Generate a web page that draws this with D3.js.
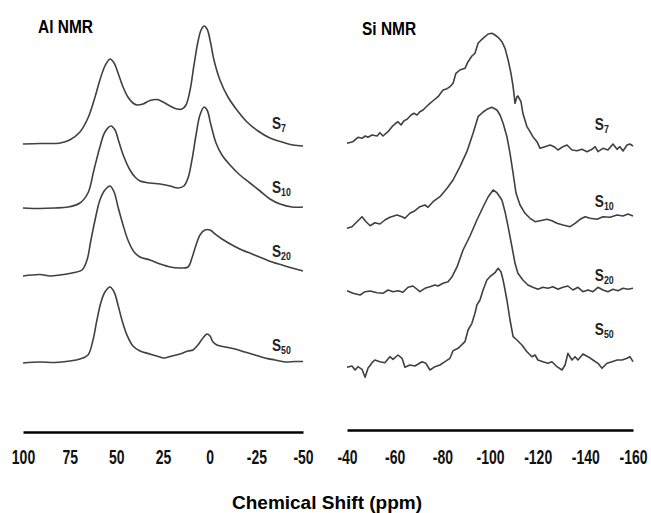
<!DOCTYPE html>
<html>
<head>
<meta charset="utf-8">
<script src="https://cdn.jsdelivr.net/npm/d3@7"></script>
<style>
  body { margin: 0; background: #fff; }
  svg { display: block; }
</style>
</head>
<body>
<div id="chart"></div>
<script>
// sample labels (subscripts) top to bottom
const samples = ["7", "10", "20", "50"];

// 27Al spectra: [ppm, intensity a.u.]
const alS7 = [[100,0],[91,0.5],[80,1],[75,4],[69.5,12],[65.2,26],[61.4,47],[58.8,64],[56.1,78],[53.4,85],[51.2,81],[49.1,71],[46.4,57],[43.8,47],[41.1,41],[38.9,39],[35.7,40],[32,43.5],[28.2,44.5],[25,42],[21.2,38],[17.5,35],[14.8,35],[12.7,39],[10.5,54],[8.4,79],[6.3,102],[4.6,114],[3,118],[1.4,115],[-0.2,104],[-2.3,84],[-5.5,64],[-9.8,47],[-14.6,34],[-20,22],[-25.9,13],[-32.3,6],[-38.8,2],[-44.6,-1],[-50,-2]];
const alS10 = [[100,0],[90.9,-0.5],[82.9,0],[75.9,1],[69.5,5],[65.2,15],[62,38],[58.8,61],[56.1,76],[52.9,82],[50.7,78],[48.6,66],[45.9,51],[42.7,38],[40,31],[37.3,27],[32,25],[26.6,24],[21.2,22],[17,20],[13.8,22],[11.6,30],[9.5,48],[7.3,73],[5.2,93],[3,101],[1.4,98],[-0.7,83],[-3.4,65],[-6.6,53],[-10.9,43],[-16.2,33],[-21.6,25],[-27,17],[-32.3,9],[-37.7,4],[-44.1,1],[-50,1]];
const alS20 = [[100,-1],[90.9,0.5],[85.5,-1],[80.2,0],[73.8,2],[68.4,5],[65.7,15],[63.6,35],[61.4,55],[58.8,75],[56.1,85],[53.4,89],[51.2,83],[49.1,68],[46.4,50],[43.8,35],[40.5,23],[37.3,18],[32,15],[26.6,11],[21.2,8],[15.9,7],[11.6,8],[9.5,17],[7.3,30],[5.2,40],[2.5,45],[-0.2,45],[-2.9,41],[-6.6,36],[-12,30],[-17.3,25],[-22.7,21],[-28,17],[-33.4,13],[-38.8,10],[-44.1,7],[-50,4]];
const alS50 = [[100,0],[90.9,1],[82.9,0.5],[74.8,2],[69.5,4],[65.2,8],[62.5,23],[60.4,43],[58.2,61],[56.1,71],[53.4,76],[51.2,71],[49.1,58],[47,43],[44.3,28],[41.1,17],[37.3,12],[32,9],[26.6,6],[23.9,5],[20.2,7],[15.9,9],[11.6,12],[8.9,13],[6.3,18],[3.6,25],[1.4,29],[-0.2,27],[-1.8,21],[-3.9,18],[-8.2,16],[-13.6,14],[-18.9,11],[-24.3,8],[-29.6,5],[-35,3],[-40.4,1],[-45.7,1.5],[-50,1.5]];

// 29Si spectra: [ppm, intensity a.u.]
const siS7 = [[-40,4.7],[-42.5,6.3],[-44.6,10.7],[-46.3,9.7],[-47.6,12],[-48.8,10.7],[-50.5,13],[-52.6,12],[-53.8,15.3],[-55.1,12],[-57.2,16.3],[-58.9,21.3],[-60.1,24],[-61.4,26.3],[-62.7,23],[-63.9,27.3],[-65.2,28.7],[-66.9,33],[-68.1,34.7],[-69.4,33],[-70.6,36.3],[-71.9,38],[-73.6,42],[-74.8,44.7],[-76.5,48],[-78.2,51.3],[-80.3,58],[-82,59.3],[-83.2,61.3],[-84.5,64.7],[-85.7,74.7],[-87.4,78],[-89.5,79.7],[-90.8,86.3],[-92.4,92],[-93.7,94.7],[-95,104.7],[-96.6,108.7],[-97.9,111.3],[-99.2,114],[-100.8,114.7],[-102.1,113],[-103.4,110.7],[-105,106.3],[-106.3,99.7],[-107.6,88],[-108.8,74.7],[-109.7,61.3],[-110.5,44.7],[-111.3,51.3],[-111.7,52],[-113,46.3],[-113.8,34.7],[-115.5,21.3],[-116.8,16.3],[-118,11.3],[-119.7,6.3],[-121,-0.3],[-123.1,1.3],[-125.2,3],[-126.9,1.3],[-128.5,-2],[-130.6,1.3],[-132.3,3],[-134.4,-2],[-136.5,-2.7],[-138.6,-1.3],[-140.7,-3.7],[-142.8,-1.3],[-144.1,1.3],[-145.3,-3.7],[-147.4,-0.3],[-149.5,-2],[-151.6,4],[-153.3,-1.3],[-154.5,1.3],[-155.8,-3],[-157.5,3],[-158.7,4],[-160,2]];
const siS10 = [[-40,-0.3],[-42.1,1.3],[-44.2,6.3],[-46.3,11.3],[-48,6.3],[-49.7,2.3],[-51.7,5.3],[-53.8,4],[-55.9,8],[-58,10.7],[-61,13],[-63.1,11.3],[-64.3,9.7],[-66.4,14.7],[-68.5,17.3],[-70.6,21.3],[-72.7,23],[-74,20.7],[-76.1,26.3],[-79,31.3],[-82,39.7],[-84.5,48],[-87.4,61.3],[-90.3,76.3],[-92.9,94.7],[-95,111.3],[-97.1,116],[-98.7,118.7],[-100.8,120.7],[-102.9,118],[-104.2,113],[-105.5,104.7],[-107.1,91.3],[-108.4,74.7],[-109.7,54.7],[-110.9,35],[-112.6,23],[-114.7,14.7],[-116.8,9.7],[-118.9,6.3],[-121,7.3],[-123.9,8.7],[-126,7.3],[-128.1,4.7],[-130.6,3],[-133.6,1.3],[-135.7,4.7],[-137.8,8.7],[-139.9,11.3],[-142,9.7],[-144.9,8.7],[-147.4,11.3],[-150.4,10.7],[-153.3,13],[-155.8,12],[-157.9,14],[-160,12]];
const siS20 = [[-40,1.3],[-42.5,-1.3],[-45.5,-3],[-47.6,0.3],[-49.7,1],[-52.6,-0.7],[-55.1,-1.3],[-57.2,2],[-59.3,0.3],[-61.4,1.3],[-63.5,-0.3],[-65.6,4.7],[-67.7,6],[-70.6,0.3],[-72.7,3.7],[-74.8,5.3],[-76.9,7],[-78.2,6],[-80.3,8.7],[-82.4,10.3],[-84.1,15.3],[-86.2,25.3],[-88.7,42],[-91.6,56],[-94.5,72],[-97.1,85],[-99.2,95],[-101.3,102],[-102.9,99.3],[-105,92],[-106.3,80.3],[-107.6,65.3],[-109.2,45.3],[-110.5,28.7],[-111.7,18.7],[-113.8,12],[-115.9,7],[-118,4.7],[-120.1,2.7],[-122.2,4.7],[-124.3,3.7],[-126.4,5.3],[-128.5,2.7],[-130.6,4.7],[-132.7,6],[-134.8,2],[-136.9,4.7],[-139,0.3],[-141.1,2],[-143.2,0.3],[-145.3,4.7],[-147.4,2],[-149.5,0.3],[-151.6,2.7],[-153.7,1.3],[-155.8,3.7],[-157.9,2.7],[-160,3.7]];
const siS50 = [[-40,-0.3],[-42.1,1],[-43.4,-3],[-44.6,0.3],[-46.3,-2.3],[-47.6,-10.3],[-48.8,-1.3],[-50.5,4.3],[-51.7,7],[-53.8,5.3],[-55.9,4.3],[-58,10.3],[-59.3,7.7],[-61.4,12],[-63.1,8.7],[-64.3,-0.3],[-66.4,2],[-68.5,1],[-71.5,5.3],[-73.1,3.7],[-74.8,-3],[-76.9,0.3],[-79,2],[-81.1,5.3],[-83.2,8.7],[-84.5,16.3],[-86.6,18.7],[-89.5,25.3],[-90.8,37],[-92.4,43.7],[-93.7,53.7],[-94.5,62],[-95.8,67],[-97.1,77],[-98.7,87],[-100,90.3],[-102.1,94.3],[-103.4,98.7],[-104.6,95.3],[-105.5,87],[-107.1,67],[-108.4,47],[-109.7,30.3],[-111.3,27],[-113.4,22],[-115.5,15.3],[-117.6,10.3],[-118.9,12],[-120.1,7],[-122.2,5.3],[-124.3,3.7],[-126,5.3],[-128.1,0.3],[-130.2,-3],[-131.5,2],[-132.7,13.7],[-134.4,7],[-135.7,10.3],[-136.9,7],[-139,13],[-141.1,10.3],[-143.2,7],[-145.3,3.7],[-147,-1.3],[-149.1,3.7],[-151.2,5.3],[-153.3,7],[-155.4,7],[-157.5,8.7],[-158.7,10.3],[-160,5.3]];

// vertical stacking offsets (a.u.), top to bottom
const alOffsets = [219, 155, 88, 0];
const siOffsets = [219, 139, 75, 0];

const alTicks = [100, 75, 50, 25, 0, -25, -50];
const siTicks = [-40, -60, -80, -100, -120, -140, -160];

const W = 651, H = 513;
const FONT = "'Liberation Sans', Arial, sans-serif";

const svg = d3.select("#chart").append("svg")
    .attr("width", W)
    .attr("height", H);

svg.append("rect").attr("width", W).attr("height", H).attr("fill", "#fff");

const xAl = d3.scaleLinear().domain([100, -50]).range([23, 303]);
const xSi = d3.scaleLinear().domain([-40, -160]).range([347, 633]);
const yAl = d3.scaleLinear().domain([0, 300]).range([363, 63]);
const ySi = d3.scaleLinear().domain([0, 300]).range([367, 67]);

function drawPanel(spectra, offsets, x, y, curve, labelPpm, labelLift) {
    const g = svg.append("g");
    spectra.forEach((s, i) => {
        const line = d3.line()
            .x(d => x(d[0]))
            .y(d => y(d[1] + offsets[i]))
            .curve(curve);
        g.append("path")
            .datum(s)
            .attr("d", line)
            .attr("fill", "none")
            .attr("stroke", "#404040")
            .attr("stroke-width", 1.6)
            .attr("stroke-linejoin", "round");

        // sample label S_n
        const t = g.append("text")
            .attr("transform", `translate(${x(labelPpm)},${y(offsets[i] + labelLift[i])}) scale(0.8,1)`)
            .attr("font-family", FONT)
            .attr("font-weight", "bold")
            .attr("font-size", 17)
            .attr("fill", "#222");
        t.append("tspan").text("S");
        t.append("tspan").attr("font-size", 11).attr("dy", 2.5).text(samples[i]);
    });
}

drawPanel([alS7, alS10, alS20, alS50], alOffsets, xAl, yAl,
    d3.curveCatmullRom.alpha(0.5), -33.4, [15, 15, 18, 12]);
drawPanel([siS7, siS10, siS20, siS50], siOffsets, xSi, ySi,
    d3.curveLinear, -144, [18, 21, 11, 32]);

// axes (plain hyphen for negatives, as in the original)
function drawAxis(x, ticks, yPos, pad) {
    const ax = svg.append("g")
        .attr("transform", `translate(0,${yPos})`)
        .call(d3.axisBottom(x).tickValues(ticks).tickFormat(d => String(d))
            .tickSize(0).tickSizeOuter(0).tickPadding(pad));
    ax.select(".domain").attr("stroke", "#000").attr("stroke-width", 2.6);
    ax.selectAll("text")
        .attr("font-family", FONT)
        .attr("font-weight", "bold")
        .attr("font-size", 20)
        .attr("fill", "#111")
        .attr("transform", "scale(0.7,1)");
}
drawAxis(xAl, alTicks, 432, 18);
drawAxis(xSi, siTicks, 430, 20);

// panel titles
svg.append("text")
    .attr("transform", "translate(38,33) scale(0.86,1)")
    .attr("font-family", FONT).attr("font-weight", "bold").attr("font-size", 18)
    .text("Al NMR");
svg.append("text")
    .attr("transform", "translate(362,35) scale(0.86,1)")
    .attr("font-family", FONT).attr("font-weight", "bold").attr("font-size", 18)
    .text("Si NMR");

// x axis title
svg.append("text")
    .attr("x", 327).attr("y", 509)
    .attr("text-anchor", "middle")
    .attr("font-family", FONT).attr("font-weight", "bold").attr("font-size", 19)
    .text("Chemical Shift (ppm)");
</script>
</body>
</html>
